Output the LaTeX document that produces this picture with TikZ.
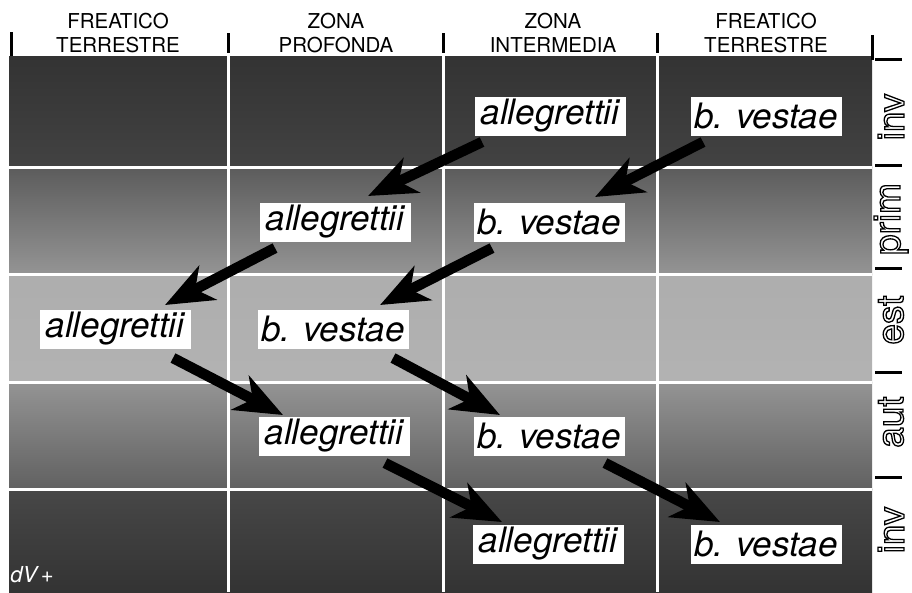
\documentclass[tikz,border=0pt]{standalone}
\usepackage{fontspec}
\setmainfont{TeX Gyre Heros}
\usetikzlibrary{arrows.meta,calc}
\newcommand\outlinetext[1]{\special{pdf:code q 1 Tr 1.3 w}#1\special{pdf:code Q}}
\begin{document}
\begin{tikzpicture}[x=1pt,y=-1pt,
  lab/.style={fill=white, inner sep=0pt, minimum width=151pt, minimum height=39pt,
              font=\fontsize{35}{35}\selectfont\itshape},
  head/.style={align=center, inner sep=0pt, font=\fontsize{20.5}{24.5}\selectfont},
  season/.style={rotate=90, inner sep=0pt, font=\fontsize{37}{37}\selectfont},
  tick/.style={line width=3pt, black},
  sep/.style={line width=3pt, white},
  bigarrow/.style={line width=10.5pt, black, -{Stealth[length=48pt,width=38pt,inset=14pt]}},
]
\useasboundingbox (0,0) rectangle (912,592);
\fill[white] (0,0) rectangle (912,592);

% ---- shaded bands ----
\shade[top color=black!80, bottom color=black!74] (9,56) rectangle (872,167);
\shade[top color=black!64, bottom color=black!42] (9,167) rectangle (872,274);
\shade[top color=black!32, bottom color=black!30] (9,274) rectangle (872,382);
\shade[top color=black!42, bottom color=black!62] (9,382) rectangle (872,489);
\shade[top color=black!72, bottom color=black!80] (9,489) rectangle (872,592);

% ---- white grid lines ----
\foreach \x in {228,443,657} \draw[sep] (\x,56) -- (\x,592);
\foreach \y in {167,274,382,489} \draw[sep] (9,\y) -- (872,\y);

% ---- header ----
\node[head] (h1) at (118,33) {FREATICO\\TERRESTRE};
\node[head] (h2) at (336,33) {ZONA\\PROFONDA};
\node[head] (h3) at (553,33) {ZONA\\INTERMEDIA};
\node[head] (h4) at (766,33) {FREATICO\\TERRESTRE};
\draw[tick] (11,32) -- (11,56);
\draw[tick] (228,33) -- (228,53);
\draw[tick] (443,33) -- (443,53);
\draw[tick] (657,33) -- (657,53);
\draw[tick] (872,35) -- (872,60);
\foreach \y in {59,165,268,372,477} \draw[tick] (875,\y) -- (902,\y);

% ---- seasons ----
\node[season] (s1) at (891,117) {\outlinetext{inv}};
\node[season] (s2) at (891,219) {\outlinetext{prim}};
\node[season] (s3) at (891,320) {\outlinetext{est}};
\node[season] (s4) at (891,422) {\outlinetext{aut}};
\node[season] (s5) at (891,530) {\outlinetext{inv}};

% ---- labels ----
\node[lab] (a1) at (550,116) {allegrettii};
\node[lab] (v1) at (766,116) {b. vestae};
\node[lab] (a2) at (335,222) {allegrettii};
\node[lab] (v2) at (549,222) {b. vestae};
\node[lab] (a3) at (115,329) {allegrettii};
\node[lab] (v3) at (333,329) {b. vestae};
\node[lab] (a4) at (334,436) {allegrettii};
\node[lab] (v4) at (549,436) {b. vestae};
\node[lab] (a5) at (548,544) {allegrettii};
\node[lab] (v5) at (766,544) {b. vestae};

% ---- arrows ----
\draw[bigarrow] ([shift={(-68,26)}]a1.center) -- ([shift={(33,-26)}]a2.center);
\draw[bigarrow] ([shift={(-63,26)}]v1.center) -- ([shift={(46,-25)}]v2.center);
\draw[bigarrow] ([shift={(-60,26)}]a2.center) -- ([shift={(50,-24)}]a3.center);
\draw[bigarrow] ([shift={(-57,26)}]v2.center) -- ([shift={(47,-24)}]v3.center);
\draw[bigarrow] ([shift={(58,29)}]a3.center) -- ([shift={(-51,-21)}]a4.center);
\draw[bigarrow] ([shift={(60,29)}]v3.center) -- ([shift={(-49,-21)}]v4.center);
\draw[bigarrow] ([shift={(51,27)}]a4.center) -- ([shift={(-46,-22)}]a5.center);
\draw[bigarrow] ([shift={(56,27)}]v4.center) -- ([shift={(-46,-22)}]v5.center);

% ---- signature ----
\node[white, inner sep=0pt, font=\fontsize{22}{22}\selectfont\itshape] (sig) at (32,575) {dV\,+};
\end{tikzpicture}
\end{document}
